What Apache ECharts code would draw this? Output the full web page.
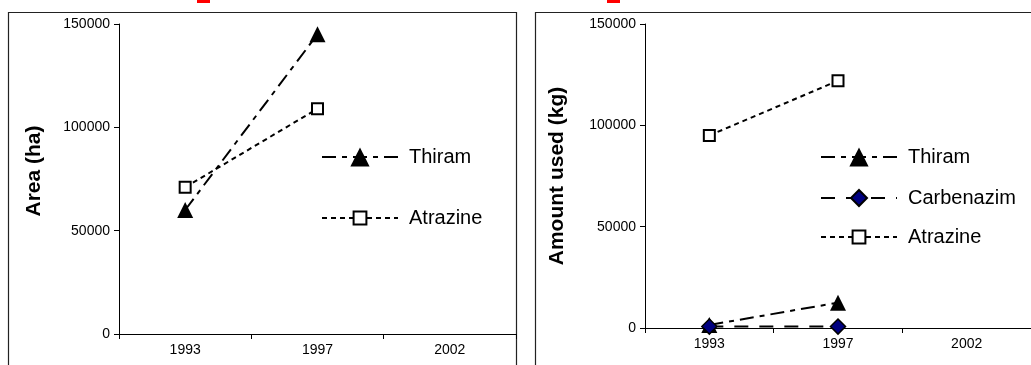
<!DOCTYPE html>
<html>
<head>
<meta charset="utf-8">
<script src="https://cdn.jsdelivr.net/npm/echarts@6/dist/echarts.min.js"></script>
<style>
html,body{margin:0;padding:0;background:#fff;}
#chart{width:1031px;height:365px;}
</style>
</head>
<body>
<div id="chart"></div>
<script>
const categories = ['1993', '1997', '2002'];
const yTicks = [0, 50000, 100000, 150000];
const areaThiram = [60000, 145000, null];
const areaAtrazine = [71000, 109000, null];
const amountThiram = [1500, 12500, null];
const amountCarbenazim = [700, 700, null];
const amountAtrazine = [95000, 122000, null];

const FONT = 'Liberation Sans, Arial, sans-serif';
const dashThiram = [14, 6, 5, 6];
const dashCarb = [14, 11];
const dashAtr = [5, 4];

function xAxis(gridIndex) {
  return {
    type: 'category', gridIndex, data: categories, boundaryGap: true,
    axisLine: {lineStyle: {color: '#000', width: 1}},
    axisTick: {show: true, length: 5, interval: 0, lineStyle: {color: '#000'}},
    axisLabel: {color: '#000', fontFamily: FONT, fontSize: 14, margin: 9, interval: 0},
    splitLine: {show: false}
  };
}
function yAxis(gridIndex, name, gap, pad) {
  return {
    type: 'value', gridIndex, min: yTicks[0], max: yTicks[yTicks.length - 1],
    interval: yTicks[1] - yTicks[0],
    name, nameLocation: 'middle', nameGap: gap, nameRotate: 90,
    nameTextStyle: {color: '#000', fontFamily: FONT, fontSize: 21, fontWeight: 'bold', padding: pad},
    axisLine: {show: true, lineStyle: {color: '#000', width: 1}},
    axisTick: {show: true, length: 5, lineStyle: {color: '#000'}},
    axisLabel: {color: '#000', fontFamily: FONT, fontSize: 14, margin: 9, formatter: v => String(v)},
    splitLine: {show: false}
  };
}
const thiramStyle = {
  symbol: 'triangle', symbolSize: 16,
  itemStyle: {color: '#000'},
  lineStyle: {color: '#000', width: 2, type: dashThiram}
};
const atrStyle = {
  symbol: 'rect', symbolSize: 11,
  itemStyle: {color: '#fff', borderColor: '#000', borderWidth: 2},
  lineStyle: {color: '#000', width: 2, type: dashAtr}
};
const carbStyle = {
  symbol: 'diamond', symbolSize: 15,
  itemStyle: {color: '#000080', borderColor: '#000', borderWidth: 1.5},
  lineStyle: {color: '#000', width: 2, type: dashCarb}
};
function series(name, data, idx, style) {
  return Object.assign({
    name, type: 'line', data, xAxisIndex: idx, yAxisIndex: idx,
    showAllSymbol: true, connectNulls: false, animation: false
  }, JSON.parse(JSON.stringify(style)));
}
// legend entries: [name, left, centerY, iconHeight]
const legendItems = [
  ['Thiram', 321, 159, 24],
  ['Atrazine', 321, 218, 16],
  ['Thiram', 820, 159, 24],
  ['Carbenazim', 820, 198, 20],
  ['Atrazine', 820, 237, 16]
];
const legends = legendItems.map(([name, left, cy, ih]) => ({
  orient: 'vertical', left, top: cy - Math.max(ih, 20) / 2, padding: 0,
  itemWidth: 76, itemHeight: ih, selectedMode: false,
  textStyle: {color: '#000', fontFamily: FONT, fontSize: 20, lineHeight: 20, padding: [0, 0, 0, 6]},
  data: [name]
}));

const chart = echarts.init(document.getElementById('chart'), null, {renderer: 'canvas'});
chart.setOption({
  backgroundColor: '#fff',
  animation: false,
  grid: [
    {left: 119, top: 24, width: 397, height: 310},
    {left: 645, top: 24, width: 398, height: 304}
  ],
  xAxis: [xAxis(0), xAxis(1)],
  yAxis: [yAxis(0, 'Area (ha)', 74, [0, 0, 0, 16]), yAxis(1, 'Amount used (kg)', 77, 0)],
  legend: legends,
  series: [
    series('Thiram', areaThiram, 0, thiramStyle),
    series('Atrazine', areaAtrazine, 0, atrStyle),
    series('Atrazine', amountAtrazine, 1, atrStyle),
    series('Thiram', amountThiram, 1, thiramStyle),
    series('Carbenazim', amountCarbenazim, 1, carbStyle)
  ],
  graphic: [
    {type: 'rect', silent: true, z: -1, shape: {x: 8.5, y: 12.5, width: 508, height: 400},
     style: {fill: 'none', stroke: '#222', lineWidth: 1.2}},
    {type: 'rect', silent: true, z: -1, shape: {x: 535.5, y: 12.5, width: 600, height: 400},
     style: {fill: 'none', stroke: '#222', lineWidth: 1.2}},
    {type: 'rect', silent: true, shape: {x: 197, y: 0, width: 13, height: 3}, style: {fill: '#ff0000'}},
    {type: 'rect', silent: true, shape: {x: 607, y: 0, width: 13, height: 3}, style: {fill: '#ff0000'}}
  ]
});
</script>
</body>
</html>
